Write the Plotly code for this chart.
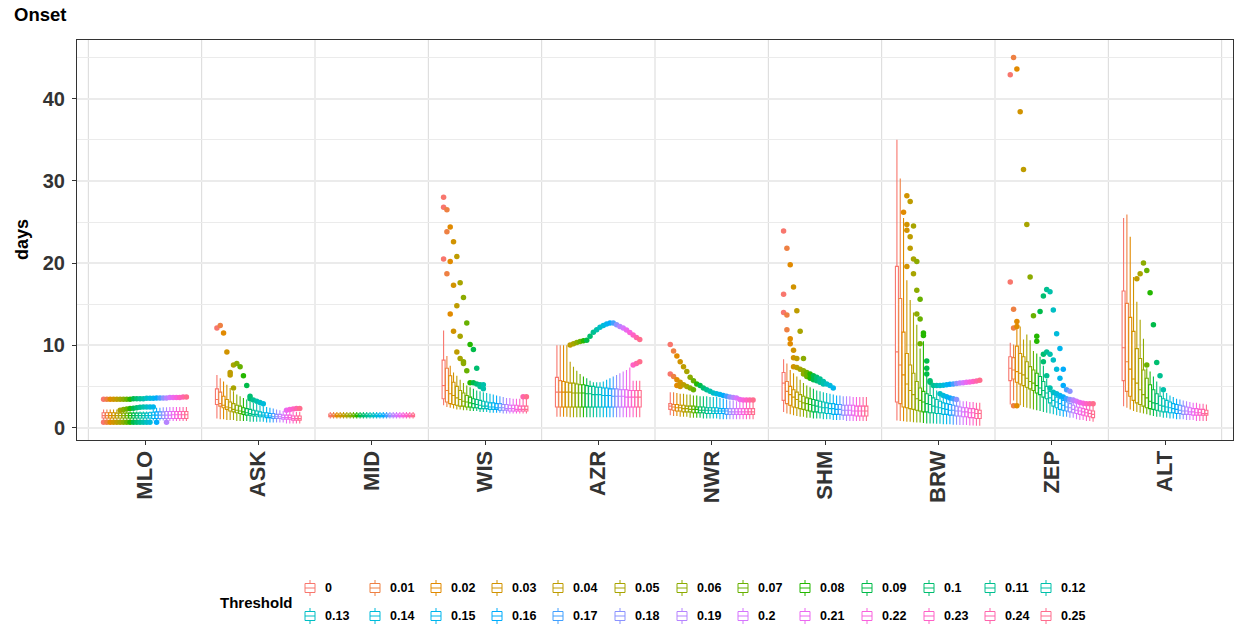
import math
import plotly.graph_objects as go

stations = ["MLO", "ASK", "MID", "WIS", "AZR", "NWR", "SHM", "BRW", "ZEP", "ALT"]
thresholds = ["0", "0.01", "0.02", "0.03", "0.04", "0.05", "0.06", "0.07", "0.08", "0.09",
              "0.1", "0.11", "0.12", "0.13", "0.14", "0.15", "0.16", "0.17", "0.18", "0.19",
              "0.2", "0.21", "0.22", "0.23", "0.24", "0.25"]

# ---- box statistics per station (one value per threshold) ----
lo_MLO = [0.95,0.95,0.95,0.95,0.95,0.95,0.95,0.95,0.95,0.95,0.95,0.95,0.95,0.95,0.95,0.85,0.85,0.85,0.85,0.8,0.8,0.8,0.8,0.8,0.8,0.8]
q1_MLO = [1.15,1.15,1.15,1.15,1.15,1.15,1.15,1.15,1.15,1.15,1.15,1.15,1.15,1.15,1.15,1.1,1.1,1.1,1.1,1.1,1.1,1.1,1.1,1.1,1.1,1.1]
md_MLO = [1.45,1.45,1.45,1.45,1.45,1.45,1.45,1.45,1.45,1.45,1.45,1.45,1.45,1.45,1.45,1.5,1.5,1.5,1.5,1.5,1.5,1.55,1.55,1.55,1.55,1.55]
q3_MLO = [1.8,1.8,1.8,1.8,1.75,1.75,1.75,1.75,1.75,1.75,1.75,1.75,1.75,1.75,1.8,1.85,1.9,1.9,1.9,1.95,1.95,1.95,1.95,1.95,1.95,1.95]
hi_MLO = [2.2,2.2,2.2,2.2,2.2,1.95,1.95,1.95,1.95,1.95,1.95,1.95,1.95,1.95,1.95,2.2,2.4,2.4,2.45,2.45,2.5,2.5,2.5,2.5,2.5,2.5]

lo_ASK = [1.1,1.0,1.0,0.9,0.9,0.9,0.8,0.8,0.8,0.8,0.7,0.7,0.7,0.7,0.7,0.6,0.6,0.6,0.6,0.6,0.6,0.5,0.5,0.5,0.5,0.5]
q1_ASK = [2.8,2.6,2.4,2.2,2.0,1.9,1.8,1.7,1.6,1.5,1.5,1.4,1.4,1.3,1.3,1.2,1.2,1.1,1.1,1.1,1.0,1.0,1.0,0.9,0.9,0.9]
md_ASK = [3.4,2.9,2.7,2.5,2.4,2.2,2.1,2.0,1.9,1.8,1.7,1.6,1.6,1.5,1.5,1.4,1.4,1.3,1.3,1.3,1.2,1.2,1.2,1.1,1.1,1.1]
q3_ASK = [4.7,4.3,3.8,3.4,3.1,2.9,2.7,2.6,2.4,2.3,2.2,2.1,2.0,1.9,1.8,1.8,1.7,1.7,1.6,1.6,1.5,1.5,1.5,1.4,1.4,1.4]
hi_ASK = [6.4,6.0,5.6,5.2,4.8,4.4,4.0,3.8,3.6,3.4,3.2,3.0,2.9,2.7,2.6,2.5,2.4,2.3,2.2,2.1,2.0,1.95,1.95,1.9,1.9,1.9]

lo_MID = [1.1,1.1,1.1,1.1,1.1,1.1,1.1,1.1,1.1,1.1,1.1,1.1,1.1,1.1,1.1,1.1,1.1,1.1,1.1,1.1,1.1,1.1,1.1,1.1,1.1,1.1]
q1_MID = [1.3,1.3,1.3,1.3,1.3,1.3,1.3,1.3,1.3,1.3,1.3,1.3,1.3,1.3,1.3,1.3,1.3,1.3,1.3,1.3,1.3,1.3,1.3,1.3,1.3,1.3]
md_MID = [1.45,1.45,1.45,1.45,1.45,1.45,1.45,1.45,1.45,1.45,1.45,1.45,1.45,1.45,1.45,1.45,1.45,1.45,1.45,1.45,1.45,1.45,1.45,1.45,1.45,1.45]
q3_MID = [1.65,1.65,1.65,1.65,1.65,1.65,1.65,1.65,1.65,1.65,1.65,1.65,1.65,1.65,1.65,1.65,1.65,1.65,1.65,1.65,1.65,1.65,1.65,1.65,1.65,1.65]
hi_MID = [1.9,1.9,1.9,1.9,1.9,1.9,1.9,1.9,1.9,1.9,1.9,1.9,1.9,1.9,1.9,1.9,1.9,1.9,1.9,1.9,1.9,1.9,1.9,1.9,1.9,1.9]

lo_WIS = [2.7,2.5,2.4,2.3,2.2,2.2,2.1,2.1,2.0,2.0,2.0,1.9,1.9,1.9,1.8,1.8,1.8,1.8,1.7,1.7,1.7,1.7,1.7,1.7,1.7,1.7]
q1_WIS = [3.5,3.1,2.9,2.8,2.7,2.6,2.6,2.5,2.5,2.4,2.4,2.3,2.3,2.3,2.2,2.2,2.2,2.1,2.1,2.1,2.0,2.0,2.0,2.0,2.0,2.0]
md_WIS = [5.1,4.5,4.1,3.9,3.6,3.4,3.2,3.1,3.0,2.9,2.8,2.7,2.6,2.6,2.5,2.5,2.4,2.4,2.4,2.3,2.3,2.3,2.2,2.2,2.2,2.2]
q3_WIS = [8.2,7.2,6.3,5.5,5.0,4.5,4.2,3.9,3.7,3.5,3.4,3.3,3.2,3.1,3.0,3.0,2.9,2.9,2.8,2.8,2.7,2.7,2.7,2.6,2.6,2.6]
hi_WIS = [11.8,8.7,7.5,6.7,6.3,5.8,5.4,5.1,4.9,4.7,4.5,4.4,4.3,4.2,4.1,4.0,3.9,3.8,3.7,3.6,3.6,3.5,3.5,3.5,3.5,3.5]

lo_AZR = [1.3,1.3,1.3,1.3,1.25,1.25,1.25,1.25,1.25,1.25,1.25,1.25,1.25,1.25,1.25,1.25,1.25,1.25,1.25,1.25,1.25,1.25,1.25,1.25,1.25,1.25]
q1_AZR = [2.5,2.5,2.5,2.5,2.5,2.5,2.5,2.5,2.5,2.5,2.5,2.5,2.5,2.5,2.5,2.5,2.5,2.5,2.5,2.5,2.5,2.5,2.5,2.5,2.5,2.5]
md_AZR = [4.3,4.3,4.3,4.3,4.3,4.2,4.2,4.2,4.2,4.1,4.1,4.0,4.0,4.0,3.9,3.9,3.9,3.8,3.8,3.8,3.8,3.7,3.7,3.7,3.7,3.7]
q3_AZR = [6.1,5.7,5.6,5.5,5.4,5.4,5.3,5.2,5.2,5.1,5.0,5.0,4.9,4.9,4.8,4.8,4.7,4.7,4.7,4.6,4.6,4.6,4.5,4.5,4.5,4.5]
hi_AZR = [10.0,10.0,10.0,10.0,8.0,7.4,6.9,6.5,6.2,6.0,5.7,5.5,5.5,5.5,5.6,5.8,6.0,6.2,6.4,6.6,6.8,7.0,7.3,5.7,5.7,5.7]

lo_NWR = [1.5,1.4,1.4,1.3,1.3,1.3,1.2,1.2,1.2,1.2,1.1,1.1,1.1,1.1,1.1,1.0,1.0,1.0,1.0,1.0,1.0,1.0,1.0,1.0,1.0,1.0]
q1_NWR = [2.2,2.1,2.0,2.0,1.9,1.9,1.9,1.8,1.8,1.8,1.8,1.7,1.7,1.7,1.7,1.7,1.7,1.6,1.6,1.6,1.6,1.6,1.6,1.6,1.6,1.6]
md_NWR = [2.6,2.5,2.4,2.4,2.3,2.3,2.2,2.2,2.2,2.1,2.1,2.1,2.1,2.0,2.0,2.0,2.0,2.0,1.9,1.9,1.9,1.9,1.9,1.9,1.9,1.9]
q3_NWR = [2.9,2.8,2.8,2.7,2.7,2.6,2.6,2.6,2.5,2.5,2.5,2.4,2.4,2.4,2.4,2.3,2.3,2.3,2.3,2.3,2.3,2.3,2.3,2.3,2.3,2.3]
hi_NWR = [4.3,4.3,4.2,4.1,4.1,4.0,4.0,3.9,3.9,3.8,3.8,3.8,3.7,3.7,3.7,3.6,3.5,3.4,3.3,3.3,3.2,3.2,3.1,3.1,3.1,3.1]

lo_SHM = [1.9,1.7,1.6,1.5,1.4,1.3,1.3,1.2,1.2,1.1,1.1,1.1,1.0,1.0,1.0,0.9,0.9,0.9,0.9,0.8,0.8,0.8,0.8,0.8,0.8,0.8]
q1_SHM = [3.3,2.9,2.7,2.5,2.4,2.3,2.2,2.1,2.0,1.9,1.9,1.8,1.8,1.7,1.7,1.6,1.6,1.6,1.5,1.5,1.5,1.5,1.4,1.4,1.4,1.4]
md_SHM = [5.4,4.4,4.0,3.7,3.4,3.2,3.0,2.9,2.8,2.7,2.6,2.5,2.4,2.4,2.3,2.3,2.2,2.2,2.1,2.1,2.1,2.0,2.0,2.0,2.0,2.0]
q3_SHM = [6.7,5.6,5.0,4.6,4.3,4.0,3.8,3.6,3.5,3.4,3.3,3.2,3.1,3.0,2.9,2.9,2.8,2.8,2.7,2.7,2.7,2.7,2.6,2.6,2.6,2.6]
hi_SHM = [8.3,7.8,7.0,6.6,6.2,5.8,5.4,5.1,4.9,4.7,4.5,4.4,4.3,4.2,4.1,4.0,3.9,3.9,3.8,3.8,3.8,3.7,3.7,3.7,3.7,3.7]

lo_BRW = [0.85,0.8,0.75,0.7,0.7,0.65,0.6,0.6,0.55,0.5,0.5,0.5,0.45,0.45,0.4,0.4,0.4,0.35,0.35,0.3,0.3,0.3,0.25,0.25,0.2,0.2]
q1_BRW = [3.1,2.9,2.5,2.4,2.3,2.2,2.1,2.0,1.9,1.9,1.8,1.8,1.7,1.7,1.6,1.6,1.5,1.5,1.4,1.4,1.3,1.3,1.2,1.2,1.1,1.1]
md_BRW = [9.2,7.6,6.4,5.3,4.5,4.0,3.5,3.3,3.1,2.9,2.8,2.6,2.5,2.4,2.3,2.2,2.1,2.1,2.0,2.0,1.9,1.9,1.8,1.8,1.7,1.7]
q3_BRW = [19.6,15.7,11.6,9.0,7.6,6.6,5.6,4.8,4.4,4.1,3.9,3.6,3.4,3.2,3.0,2.9,2.8,2.7,2.6,2.5,2.4,2.4,2.3,2.3,2.2,2.1]
hi_BRW = [35.0,30.3,25.5,17.9,15.5,14.0,12.5,9.6,10.5,6.3,5.3,4.8,4.5,3.9,3.7,3.6,3.5,3.4,3.3,3.3,3.2,3.2,3.1,3.1,3.0,3.0]

lo_ZEP = [2.8,3.3,2.9,2.7,2.5,2.4,2.3,2.2,2.1,2.0,1.9,1.8,1.7,1.6,1.5,1.4,1.3,1.3,1.2,1.2,1.0,0.9,0.9,0.8,0.8,0.7]
q1_ZEP = [5.7,5.9,5.5,5.3,5.1,4.9,4.7,4.5,4.2,4.0,3.7,3.5,3.0,2.6,2.4,2.2,2.1,2.0,1.9,1.8,1.7,1.6,1.5,1.4,1.3,1.2]
md_ZEP = [7.2,7.0,6.8,6.6,6.4,6.0,5.6,5.4,5.1,4.8,4.5,4.2,3.6,3.3,3.1,2.9,2.7,2.5,2.4,2.2,2.1,2.0,1.9,1.8,1.7,1.6]
q3_ZEP = [8.6,8.5,9.9,9.0,8.6,8.0,7.4,7.0,6.6,6.2,5.6,5.0,4.4,4.0,3.7,3.5,3.3,3.1,2.9,2.7,2.5,2.4,2.3,2.2,2.1,2.0]
hi_ZEP = [10.3,10.1,12.1,12.3,10.7,11.3,10.6,9.3,9.0,8.6,7.5,5.9,4.7,4.2,4.0,3.8,3.6,3.4,3.3,3.2,3.1,2.95,2.85,2.8,2.8,2.8]

lo_ALT = [2.6,2.4,2.2,2.0,1.9,1.8,1.7,1.6,1.5,1.4,1.3,1.3,1.2,1.2,1.1,1.1,1.0,1.0,1.0,0.9,0.9,0.9,0.8,0.8,0.8,0.8]
q1_ALT = [5.7,4.4,3.8,3.3,3.0,2.8,2.6,2.4,2.3,2.2,2.1,2.0,1.9,1.9,1.8,1.8,1.7,1.7,1.6,1.6,1.6,1.5,1.5,1.5,1.5,1.5]
md_ALT = [9.7,8.0,7.1,5.9,5.4,4.6,4.0,3.6,3.2,3.0,2.9,2.7,2.6,2.5,2.4,2.3,2.2,2.1,2.0,2.0,1.9,1.9,1.8,1.8,1.7,1.7]
q3_ALT = [16.6,15.1,13.4,11.7,9.6,8.4,7.0,6.0,5.2,4.6,4.1,3.8,3.5,3.3,3.1,2.9,2.8,2.7,2.6,2.5,2.4,2.3,2.3,2.2,2.2,2.1]
hi_ALT = [25.5,25.9,23.2,18.3,15.3,13.1,10.8,7.2,6.8,6.2,5.6,5.0,4.3,4.2,3.9,3.7,3.5,3.4,3.3,3.2,3.1,3.0,3.0,2.9,2.9,2.8]

# ---- outliers: (threshold index, value) ----
out_MLO = [(0,3.45),(1,3.45),(2,3.45),(3,3.45),(4,3.45),(5,3.45),(6,3.45),(7,3.45),(8,3.45),(9,3.5),(10,3.5),(11,3.5),(12,3.5),
           (13,3.55),(14,3.55),(15,3.55),(16,3.6),(17,3.6),(18,3.6),(19,3.6),(20,3.65),(21,3.65),(22,3.65),(23,3.65),(24,3.7),(25,3.7),
           (0,0.65),(1,0.65),(2,0.65),(3,0.65),(4,0.65),(5,0.65),(6,0.65),(7,0.65),(8,0.65),(9,0.65),(10,0.65),(11,0.65),(12,0.65),(13,0.65),(14,0.65),
           (5,2.1),(6,2.2),(7,2.25),(8,2.3),(9,2.35),(10,2.4),(11,2.45),(12,2.5),(13,2.5),(14,2.5),(15,2.5),
           (16,0.65),(19,0.65)]
out_ASK = [(0,12.1),(1,12.4),(2,11.5),(3,9.2),(4,6.7),(4,6.4),(5,7.6),(5,4.8),(6,7.8),(7,7.4),(8,6.3),(9,5.1),
           (10,3.8),(10,3.5),(11,3.35),(12,3.2),(13,3.05),(14,2.9),(21,2.1),(22,2.2),(23,2.25),(24,2.3),(25,2.3)]
out_MID = []
out_WIS = [(0,28.0),(0,26.8),(1,26.5),(2,24.4),(1,23.8),(3,22.6),(0,20.5),(2,20.2),(4,20.8),(1,18.7),(3,17.3),(5,17.6),
           (6,15.8),(4,14.8),(2,13.8),(7,12.7),(3,11.7),(5,11.1),(8,10.1),(9,9.5),(4,9.2),(5,8.4),(6,8.0),(6,7.8),(7,6.9),(10,7.2),
           (8,5.45),(9,5.45),(10,5.3),(11,5.2),(12,5.2),(11,5.0),(12,4.7),(24,3.75),(25,3.75)]
out_AZR = [(4,10.05),(5,10.2),(6,10.35),(7,10.45),(8,10.55),(9,10.6),(10,11.1),(11,11.6),(12,11.9),(13,12.2),(14,12.4),
           (15,12.6),(16,12.7),(17,12.7),(18,12.5),(19,12.3),(20,12.1),(21,11.85),(22,11.55),(23,11.25),(24,10.95),(25,10.7),
           (23,7.6),(24,7.8),(25,8.0)]
out_NWR = [(0,10.1),(1,9.3),(2,8.7),(3,8.0),(4,7.4),(5,6.8),(6,6.1),(7,5.7),(8,5.3),(9,5.1),(10,4.8),(11,4.6),(12,4.4),
           (13,4.2),(14,4.1),(15,4.0),(16,3.9),(17,3.8),(18,3.7),(19,3.65),(20,3.6),(21,3.4),(22,3.35),(23,3.35),(24,3.35),(25,3.35),
           (0,6.5),(1,6.2),(2,5.8),(3,5.5),(4,5.2),(5,5.0),(6,4.8),(7,4.6),(2,5.1),(3,5.0)]
out_SHM = [(0,23.9),(1,21.8),(2,19.8),(3,17.1),(0,16.2),(0,14.0),(1,13.7),(4,14.2),(1,11.9),(5,11.7),(2,10.8),(2,10.2),
           (3,9.4),(3,8.5),(4,8.4),(6,8.4),
           (3,7.4),(4,7.3),(5,7.1),(6,6.9),(7,6.7),(8,6.5),(9,6.3),(10,6.1),(11,5.9),(12,5.6),(13,5.3),(14,5.1),(15,4.8),
           (6,6.5),(7,6.2),(8,6.0),(9,5.8),(10,5.7),(11,5.5),(12,5.3)]
out_BRW = [(3,28.2),(4,27.5),(2,26.2),(3,24.7),(3,24.0),(5,24.5),(4,23.2),(4,21.8),(5,20.5),(6,20.2),(3,19.6),(5,18.7),
           (6,16.7),(7,15.6),(6,13.8),(7,13.2),(8,11.5),(8,11.2),(7,10.2),(9,8.1),(9,7.2),(9,6.5),(10,5.7),(10,5.5),
           (11,5.1),(12,5.1),(13,5.1),(14,5.15),(15,5.2),(16,5.25),(17,5.3),(18,5.35),(19,5.4),(20,5.45),(21,5.5),
           (22,5.55),(23,5.6),(24,5.65),(25,5.75),
           (13,4.1),(14,3.9),(15,3.75),(16,3.6),(17,3.5),(18,3.4)]
out_ZEP = [(1,45.0),(0,42.9),(2,43.6),(3,38.4),(4,31.4),(5,24.7),(0,17.7),(6,18.3),(1,14.4),(11,16.8),(12,16.5),(10,16.0),
           (13,14.3),(7,13.6),(9,14.1),(2,12.9),(1,12.1),(2,12.3),(8,11.1),(8,10.5),(14,11.4),(15,9.6),(10,8.9),(11,9.2),
           (12,8.9),(10,8.0),(13,8.2),(14,7.1),(16,7.1),(15,6.0),(11,6.3),(16,5.1),(12,4.8),(17,4.6),(18,4.4),
           (13,4.3),(14,4.1),(15,3.9),(16,3.7),(17,3.5),(18,3.4),(19,3.3),
           (19,3.35),(20,3.2),(21,3.05),(22,2.95),(23,2.9),(24,2.9),(25,2.9),(1,2.65),(2,2.65)]
out_ALT = [(6,20.0),(5,18.7),(4,18.1),(7,19.1),(8,16.4),(9,12.5),(10,7.9),(7,7.6),(11,6.3),(12,4.6)]

LO = {"MLO": lo_MLO, "ASK": lo_ASK, "MID": lo_MID, "WIS": lo_WIS, "AZR": lo_AZR,
      "NWR": lo_NWR, "SHM": lo_SHM, "BRW": lo_BRW, "ZEP": lo_ZEP, "ALT": lo_ALT}
Q1 = {"MLO": q1_MLO, "ASK": q1_ASK, "MID": q1_MID, "WIS": q1_WIS, "AZR": q1_AZR,
      "NWR": q1_NWR, "SHM": q1_SHM, "BRW": q1_BRW, "ZEP": q1_ZEP, "ALT": q1_ALT}
MD = {"MLO": md_MLO, "ASK": md_ASK, "MID": md_MID, "WIS": md_WIS, "AZR": md_AZR,
      "NWR": md_NWR, "SHM": md_SHM, "BRW": md_BRW, "ZEP": md_ZEP, "ALT": md_ALT}
Q3 = {"MLO": q3_MLO, "ASK": q3_ASK, "MID": q3_MID, "WIS": q3_WIS, "AZR": q3_AZR,
      "NWR": q3_NWR, "SHM": q3_SHM, "BRW": q3_BRW, "ZEP": q3_ZEP, "ALT": q3_ALT}
HI = {"MLO": hi_MLO, "ASK": hi_ASK, "MID": hi_MID, "WIS": hi_WIS, "AZR": hi_AZR,
      "NWR": hi_NWR, "SHM": hi_SHM, "BRW": hi_BRW, "ZEP": hi_ZEP, "ALT": hi_ALT}
OUT = {"MLO": out_MLO, "ASK": out_ASK, "MID": out_MID, "WIS": out_WIS, "AZR": out_AZR,
       "NWR": out_NWR, "SHM": out_SHM, "BRW": out_BRW, "ZEP": out_ZEP, "ALT": out_ALT}


def hcl_hex(h, c=100.0, l=65.0):
    hr = math.radians(h)
    U, V = c * math.cos(hr), c * math.sin(hr)
    Xn, Yn, Zn = 95.047, 100.0, 108.883
    den = Xn + 15 * Yn + 3 * Zn
    un, vn = 4 * Xn / den, 9 * Yn / den
    Y = Yn * ((l + 16) / 116) ** 3
    u = U / (13 * l) + un
    v = V / (13 * l) + vn
    X = Y * 9 * u / (4 * v)
    Z = Y * (12 - 3 * u - 20 * v) / (4 * v)
    x, y, z = X / 100, Y / 100, Z / 100
    rgb = [3.240479 * x - 1.537150 * y - 0.498535 * z,
           -0.969256 * x + 1.875992 * y + 0.041556 * z,
           0.055648 * x - 0.204043 * y + 1.057311 * z]
    out = []
    for t in rgb:
        t = 12.92 * t if t <= 0.0031308 else 1.055 * t ** (1 / 2.4) - 0.055
        out.append(int(round(min(max(t, 0), 1) * 255)))
    return "#%02X%02X%02X" % tuple(out)


n = len(thresholds)
colors = [hcl_hex(15 + 360 * k / n) for k in range(n)]

DODGE = 0.76
slot = DODGE / n
bw = slot * 0.9


def xpos(si, j):
    return (si + 1) - DODGE / 2 + (j + 0.5) * slot


fig = go.Figure()
for j in range(n):
    fig.add_trace(go.Box(
        x=[xpos(si, j) for si in range(len(stations))],
        q1=[Q1[s][j] for s in stations],
        median=[MD[s][j] for s in stations],
        q3=[Q3[s][j] for s in stations],
        lowerfence=[LO[s][j] for s in stations],
        upperfence=[HI[s][j] for s in stations],
        width=bw, whiskerwidth=0, boxpoints=False,
        line=dict(color=colors[j], width=1.1), fillcolor="white",
        showlegend=False, hoverinfo="skip"))

for j in range(n):
    xs, ys = [], []
    for si, s in enumerate(stations):
        for (k, val) in OUT[s]:
            if k == j:
                xs.append(xpos(si, j))
                ys.append(val)
    if xs:
        fig.add_trace(go.Scatter(x=xs, y=ys, mode="markers",
                                 marker=dict(color=colors[j], size=5.5, line=dict(width=0)),
                                 showlegend=False, hoverinfo="skip"))

# plot geometry (pixels)
W, H = 1235, 625
L, R, T, B = 77, 1233, 40, 440

shapes = []
for k in range(len(stations) + 1):
    shapes.append(dict(type="line", xref="x", yref="paper", x0=k + 0.5, x1=k + 0.5, y0=0, y1=1,
                       line=dict(color="#d9d9d9", width=1), layer="below"))


def px(x):
    return (x - L) / (R - L)


def py(y):
    return (B - y) / (B - T)


FONT = "Liberation Sans, Arial, sans-serif"
annotations = []
col_x = [310, 375, 436, 497, 558, 620, 682, 743, 805, 867, 929, 990, 1046]
row_y = [588, 616]
for k in range(n):
    gx = col_x[k % 13]
    gy = row_y[k // 13]
    c = colors[k]
    shapes.append(dict(type="rect", xref="paper", yref="paper", x0=px(gx - 5), x1=px(gx + 5),
                       y0=py(gy - 4.5), y1=py(gy + 4.5), line=dict(color=c, width=1), fillcolor="white"))
    shapes.append(dict(type="line", xref="paper", yref="paper", x0=px(gx - 5), x1=px(gx + 5),
                       y0=py(gy), y1=py(gy), line=dict(color=c, width=1)))
    shapes.append(dict(type="line", xref="paper", yref="paper", x0=px(gx), x1=px(gx),
                       y0=py(gy - 4.5), y1=py(gy - 8), line=dict(color=c, width=1)))
    shapes.append(dict(type="line", xref="paper", yref="paper", x0=px(gx), x1=px(gx),
                       y0=py(gy + 4.5), y1=py(gy + 8), line=dict(color=c, width=1)))
    annotations.append(dict(xref="paper", yref="paper", x=px(gx + 13), y=py(gy), text="<b>%s</b>" % thresholds[k],
                            showarrow=False, xanchor="left", yanchor="middle",
                            font=dict(family=FONT, size=12.5, color="#000000")))

annotations.append(dict(xref="paper", yref="paper", x=px(295), y=py(602), text="<b>Threshold</b>",
                        showarrow=False, xanchor="right", yanchor="middle",
                        font=dict(family=FONT, size=15, color="#000000")))
annotations.append(dict(xref="paper", yref="paper", x=px(22), y=0.5, text="<b>days</b>", textangle=-90,
                        showarrow=False, xanchor="center", yanchor="middle",
                        font=dict(family=FONT, size=18, color="#000000")))

fig.update_layout(
    width=W, height=H,
    margin=dict(l=L, r=W - R, t=T, b=H - B),
    paper_bgcolor="white", plot_bgcolor="white",
    boxmode="overlay",
    title=dict(text="<b>Onset</b>", x=14 / W, xanchor="left", xref="container",
               y=1 - 15 / H, yanchor="middle", yref="container",
               font=dict(family=FONT, size=18.5, color="#000000")),
    shapes=shapes, annotations=annotations,
    showlegend=False,
    xaxis=dict(range=[0.4, 10.6], tickmode="array", tickvals=list(range(1, 11)), ticktext=stations,
               tickangle=-90, showgrid=False, zeroline=False,
               showline=True, mirror=True, linecolor="#333333", linewidth=1,
               ticks="outside", ticklen=4, tickcolor="#333333", ticklabelstandoff=-3,
               tickfont=dict(family=FONT, size=22, color="#333333", weight="bold")),
    yaxis=dict(range=[-1.52, 47.14], tickmode="array", tickvals=[0, 10, 20, 30, 40],
               showgrid=True, gridcolor="#ebebeb", gridwidth=2, zeroline=False,
               minor=dict(tickmode="array", tickvals=[5, 15, 25, 35, 45], showgrid=True,
                          gridcolor="#ebebeb", gridwidth=1, ticks=""),
               showline=True, mirror=True, linecolor="#333333", linewidth=1,
               ticks="outside", ticklen=4, tickcolor="#333333", ticklabelstandoff=3,
               tickfont=dict(family=FONT, size=20, color="#333333", weight="bold")),
    font=dict(family=FONT),
)

fig.write_html("out.html", config={"displayModeBar": False},
               post_script="document.body.style.margin='0px';")
